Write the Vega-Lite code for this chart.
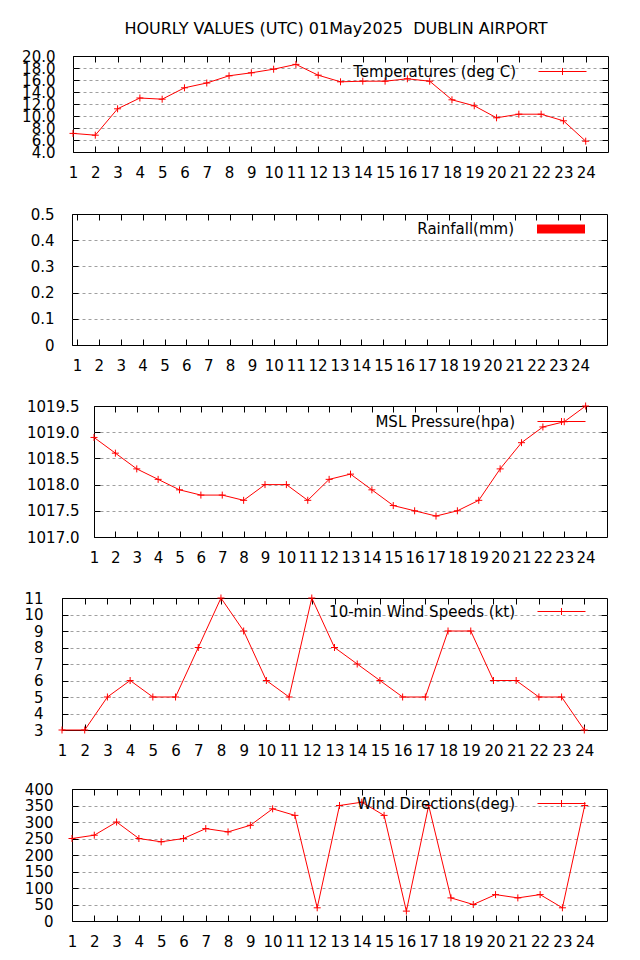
{
  "$schema": "https://vega.github.io/schema/vega-lite/v6.json",
  "padding": {"top": 20, "left": 5, "right": 5, "bottom": 5},
  "background": "white",
  "title": {"text": "HOURLY VALUES (UTC) 01May2025 \u00a0DUBLIN AIRPORT", "font": "DejaVu Sans", "fontSize": 16, "fontWeight": "normal", "color": "black", "anchor": "middle", "dx": 29, "offset": 12},
  "config": {
    "font": "DejaVu Sans",
    "view": {"stroke": "black", "strokeWidth": 1},
    "axis": {"domain": false, "tickSize": -6, "tickColor": "black", "tickWidth": 1, "labelFont": "DejaVu Sans", "labelFontSize": 15, "labelColor": "black", "labelOverlap": false, "labelFlush": false, "grid": false, "gridColor": "#a0a0a0", "gridDash": [3, 3], "gridWidth": 1},
    "legend": {"labelFont": "DejaVu Sans", "labelFontSize": 15, "labelColor": "black", "labelLimit": 0, "padding": 0, "orient": "none", "labelAlign": "right", "labelOffset": -56, "symbolSize": 324}
  },
  "spacing": 0,
  "columns": 1,
  "resolve": {"scale": {"color": "independent"}, "legend": {"color": "independent"}},
  "data": {"values": [
    {"hour": 1, "temp": 7.1, "rain": 0, "pres": 1018.9, "wind": 3, "dir": 250},
    {"hour": 2, "temp": 6.8, "rain": 0, "pres": 1018.6, "wind": 3, "dir": 260},
    {"hour": 3, "temp": 11.2, "rain": 0, "pres": 1018.3, "wind": 5, "dir": 300},
    {"hour": 4, "temp": 13.0, "rain": 0, "pres": 1018.1, "wind": 6, "dir": 250},
    {"hour": 5, "temp": 12.8, "rain": 0, "pres": 1017.9, "wind": 5, "dir": 240},
    {"hour": 6, "temp": 14.7, "rain": 0, "pres": 1017.8, "wind": 5, "dir": 250},
    {"hour": 7, "temp": 15.5, "rain": 0, "pres": 1017.8, "wind": 8, "dir": 280},
    {"hour": 8, "temp": 16.7, "rain": 0, "pres": 1017.7, "wind": 11, "dir": 270},
    {"hour": 9, "temp": 17.2, "rain": 0, "pres": 1018.0, "wind": 9, "dir": 290},
    {"hour": 10, "temp": 17.8, "rain": 0, "pres": 1018.0, "wind": 6, "dir": 340},
    {"hour": 11, "temp": 18.6, "rain": 0, "pres": 1017.7, "wind": 5, "dir": 320},
    {"hour": 12, "temp": 16.8, "rain": 0, "pres": 1018.1, "wind": 11, "dir": 40},
    {"hour": 13, "temp": 15.7, "rain": 0, "pres": 1018.2, "wind": 8, "dir": 350},
    {"hour": 14, "temp": 15.8, "rain": 0, "pres": 1017.9, "wind": 7, "dir": 360},
    {"hour": 15, "temp": 15.8, "rain": 0, "pres": 1017.6, "wind": 6, "dir": 320},
    {"hour": 16, "temp": 16.2, "rain": 0, "pres": 1017.5, "wind": 5, "dir": 30},
    {"hour": 17, "temp": 15.8, "rain": 0, "pres": 1017.4, "wind": 5, "dir": 350},
    {"hour": 18, "temp": 12.7, "rain": 0, "pres": 1017.5, "wind": 9, "dir": 70},
    {"hour": 19, "temp": 11.7, "rain": 0, "pres": 1017.7, "wind": 9, "dir": 50},
    {"hour": 20, "temp": 9.7, "rain": 0, "pres": 1018.3, "wind": 6, "dir": 80},
    {"hour": 21, "temp": 10.3, "rain": 0, "pres": 1018.8, "wind": 6, "dir": 70},
    {"hour": 22, "temp": 10.3, "rain": 0, "pres": 1019.1, "wind": 5, "dir": 80},
    {"hour": 23, "temp": 9.2, "rain": 0, "pres": 1019.2, "wind": 5, "dir": 40},
    {"hour": 24, "temp": 5.8, "rain": 0, "pres": 1019.5, "wind": 3, "dir": 350}
  ]},
  "concat": [
    {
      "spacing": 0,
      "resolve": {"scale": {"color": "independent"}, "legend": {"color": "independent"}},
      "hconcat": [
        {"width": 16, "height": 1, "view": {"stroke": null}, "mark": {"type": "point", "opacity": 0}, "encoding": {}},
        {
          "width": 535, "height": 96,
          "layer": [
            {
              "mark": {"type": "line", "strokeWidth": 1},
              "encoding": {
                "x": {"field": "hour", "type": "quantitative", "scale": {"domain": [1, 25], "nice": false, "zero": false}, "axis": {"orient": "bottom", "title": null, "values": [1,2,3,4,5,6,7,8,9,10,11,12,13,14,15,16,17,18,19,20,21,22,23,24], "format": "d", "labelPadding": 26, "labelBaseline": "middle", "minExtent": 53, "maxExtent": 53}},
                "y": {"field": "temp", "type": "quantitative", "scale": {"domain": [4, 20], "nice": false, "zero": false}, "axis": {"orient": "left", "title": null, "values": [4,6,8,10,12,14,16,18,20], "format": ".1f", "labelPadding": 24, "minExtent": 50, "maxExtent": 50}},
                "color": {"datum": "Temperatures (deg C)", "type": "nominal", "scale": {"range": ["#ff0000"]}, "legend": {"title": null, "legendX": 480, "legendY": 6, "symbolType": "M-2.667,0H2.667M0,-0.39V0.39", "symbolStrokeWidth": 1}}
              }
            },
            {
              "mark": {"type": "point", "shape": "M-1,0H1M0,-1V1", "size": 49, "filled": false, "color": "#ff0000", "strokeWidth": 1, "opacity": 1},
              "encoding": {
                "x": {"field": "hour", "type": "quantitative", "axis": {"orient": "top", "title": null, "labels": false, "values": [1,2,3,4,5,6,7,8,9,10,11,12,13,14,15,16,17,18,19,20,21,22,23,24], "minExtent": 0, "maxExtent": 0}},
                "y": {"field": "temp", "type": "quantitative", "axis": {"orient": "right", "title": null, "labels": false, "grid": true, "values": [6,8,10,12,14,16,18], "minExtent": 0, "maxExtent": 0}}
              }
            }
          ],
          "resolve": {"axis": {"x": "independent", "y": "independent"}}
        }
      ]
    },
    {
      "spacing": 0,
      "resolve": {"scale": {"color": "independent"}, "legend": {"color": "independent"}},
      "hconcat": [
        {"width": 16, "height": 1, "view": {"stroke": null}, "mark": {"type": "point", "opacity": 0}, "encoding": {}},
        {
          "width": 535, "height": 131,
          "layer": [
            {
              "mark": {"type": "bar", "width": 10},
              "encoding": {
                "x": {"field": "hour", "type": "quantitative", "scale": {"domain": [1, 25], "nice": false, "zero": false}, "axis": {"orient": "bottom", "title": null, "values": [1,2,3,4,5,6,7,8,9,10,11,12,13,14,15,16,17,18,19,20,21,22,23,24], "format": "d", "labelPadding": 26, "labelBaseline": "middle", "minExtent": 52, "maxExtent": 52}},
                "y": {"field": "rain", "type": "quantitative", "scale": {"domain": [0, 0.5], "nice": false, "zero": false}, "axis": {"orient": "left", "title": null, "values": [0, 0.1, 0.2, 0.3, 0.4, 0.5], "format": "~g", "labelPadding": 24, "minExtent": 50, "maxExtent": 50}},
                "color": {"datum": "Rainfall(mm)", "type": "nominal", "scale": {"range": ["#ff0000"]}, "legend": {"title": null, "legendX": 480, "legendY": 6, "symbolType": "M-2.667,-0.5H2.667V0.5H-2.667Z", "symbolStrokeWidth": 0}}
              }
            },
            {
              "mark": {"type": "point", "opacity": 0},
              "encoding": {
                "x": {"field": "hour", "type": "quantitative", "axis": {"orient": "top", "title": null, "labels": false, "values": [1,2,3,4,5,6,7,8,9,10,11,12,13,14,15,16,17,18,19,20,21,22,23,24], "minExtent": 0, "maxExtent": 0}},
                "y": {"field": "rain", "type": "quantitative", "axis": {"orient": "right", "title": null, "labels": false, "grid": true, "values": [0.1, 0.2, 0.3, 0.4], "minExtent": 0, "maxExtent": 0}}
              }
            }
          ],
          "resolve": {"axis": {"x": "independent", "y": "independent"}}
        }
      ]
    },
    {
      "spacing": 0,
      "resolve": {"scale": {"color": "independent"}, "legend": {"color": "independent"}},
      "hconcat": [
        {"width": 18, "height": 1, "view": {"stroke": null}, "mark": {"type": "point", "opacity": 0}, "encoding": {}},
        {
          "width": 513, "height": 131,
          "layer": [
            {
              "mark": {"type": "line", "strokeWidth": 1},
              "encoding": {
                "x": {"field": "hour", "type": "quantitative", "scale": {"domain": [1, 25], "nice": false, "zero": false}, "axis": {"orient": "bottom", "title": null, "values": [1,2,3,4,5,6,7,8,9,10,11,12,13,14,15,16,17,18,19,20,21,22,23,24], "format": "d", "labelPadding": 26, "labelBaseline": "middle", "minExtent": 52, "maxExtent": 52}},
                "y": {"field": "pres", "type": "quantitative", "scale": {"domain": [1017, 1019.5], "nice": false, "zero": false}, "axis": {"orient": "left", "title": null, "values": [1017, 1017.5, 1018, 1018.5, 1019, 1019.5], "format": ".1f", "labelPadding": 21, "minExtent": 70, "maxExtent": 70}},
                "color": {"datum": "MSL Pressure(hpa)", "type": "nominal", "scale": {"range": ["#ff0000"]}, "legend": {"title": null, "legendX": 458, "legendY": 6, "symbolType": "M-2.667,0H2.667M0,-0.39V0.39", "symbolStrokeWidth": 1}}
              }
            },
            {
              "mark": {"type": "point", "shape": "M-1,0H1M0,-1V1", "size": 49, "filled": false, "color": "#ff0000", "strokeWidth": 1, "opacity": 1},
              "encoding": {
                "x": {"field": "hour", "type": "quantitative", "axis": {"orient": "top", "title": null, "labels": false, "values": [1,2,3,4,5,6,7,8,9,10,11,12,13,14,15,16,17,18,19,20,21,22,23,24], "minExtent": 0, "maxExtent": 0}},
                "y": {"field": "pres", "type": "quantitative", "axis": {"orient": "right", "title": null, "labels": false, "grid": true, "values": [1017.5, 1018, 1018.5, 1019], "minExtent": 0, "maxExtent": 0}}
              }
            }
          ],
          "resolve": {"axis": {"x": "independent", "y": "independent"}}
        }
      ]
    },
    {
      "spacing": 0,
      "resolve": {"scale": {"color": "independent"}, "legend": {"color": "independent"}},
      "hconcat": [
        {"width": 6, "height": 1, "view": {"stroke": null}, "mark": {"type": "point", "opacity": 0}, "encoding": {}},
        {
          "width": 545, "height": 132,
          "layer": [
            {
              "mark": {"type": "line", "strokeWidth": 1},
              "encoding": {
                "x": {"field": "hour", "type": "quantitative", "scale": {"domain": [1, 25], "nice": false, "zero": false}, "axis": {"orient": "bottom", "title": null, "values": [1,2,3,4,5,6,7,8,9,10,11,12,13,14,15,16,17,18,19,20,21,22,23,24], "format": "d", "labelPadding": 26, "labelBaseline": "middle", "minExtent": 50, "maxExtent": 50}},
                "y": {"field": "wind", "type": "quantitative", "scale": {"domain": [3, 11], "nice": false, "zero": false}, "axis": {"orient": "left", "title": null, "values": [3,4,5,6,7,8,9,10,11], "format": "d", "labelPadding": 25, "minExtent": 50, "maxExtent": 50}},
                "color": {"datum": "10-min Wind Speeds (kt)", "type": "nominal", "scale": {"range": ["#ff0000"]}, "legend": {"title": null, "legendX": 490, "legendY": 4, "symbolType": "M-2.667,0H2.667M0,-0.39V0.39", "symbolStrokeWidth": 1}}
              }
            },
            {
              "mark": {"type": "point", "shape": "M-1,0H1M0,-1V1", "size": 49, "filled": false, "color": "#ff0000", "strokeWidth": 1, "opacity": 1},
              "encoding": {
                "x": {"field": "hour", "type": "quantitative", "axis": {"orient": "top", "title": null, "labels": false, "values": [1,2,3,4,5,6,7,8,9,10,11,12,13,14,15,16,17,18,19,20,21,22,23,24], "minExtent": 0, "maxExtent": 0}},
                "y": {"field": "wind", "type": "quantitative", "axis": {"orient": "right", "title": null, "labels": false, "grid": true, "values": [4,5,6,7,8,9,10], "minExtent": 0, "maxExtent": 0}}
              }
            }
          ],
          "resolve": {"axis": {"x": "independent", "y": "independent"}}
        }
      ]
    },
    {
      "spacing": 0,
      "resolve": {"scale": {"color": "independent"}, "legend": {"color": "independent"}},
      "hconcat": [
        {"width": 16, "height": 1, "view": {"stroke": null}, "mark": {"type": "point", "opacity": 0}, "encoding": {}},
        {
          "width": 535, "height": 132,
          "layer": [
            {
              "mark": {"type": "line", "strokeWidth": 1},
              "encoding": {
                "x": {"field": "hour", "type": "quantitative", "scale": {"domain": [1, 25], "nice": false, "zero": false}, "axis": {"orient": "bottom", "title": null, "values": [1,2,3,4,5,6,7,8,9,10,11,12,13,14,15,16,17,18,19,20,21,22,23,24], "format": "d", "labelPadding": 26, "labelBaseline": "middle", "minExtent": 30, "maxExtent": 30}},
                "y": {"field": "dir", "type": "quantitative", "scale": {"domain": [0, 400], "nice": false, "zero": false}, "axis": {"orient": "left", "title": null, "values": [0,50,100,150,200,250,300,350,400], "format": "d", "labelPadding": 25, "minExtent": 50, "maxExtent": 50}},
                "color": {"datum": "Wind Directions(deg)", "type": "nominal", "scale": {"range": ["#ff0000"]}, "legend": {"title": null, "legendX": 480, "legendY": 5, "symbolType": "M-2.667,0H2.667M0,-0.39V0.39", "symbolStrokeWidth": 1}}
              }
            },
            {
              "mark": {"type": "point", "shape": "M-1,0H1M0,-1V1", "size": 49, "filled": false, "color": "#ff0000", "strokeWidth": 1, "opacity": 1},
              "encoding": {
                "x": {"field": "hour", "type": "quantitative", "axis": {"orient": "top", "title": null, "labels": false, "values": [1,2,3,4,5,6,7,8,9,10,11,12,13,14,15,16,17,18,19,20,21,22,23,24], "minExtent": 0, "maxExtent": 0}},
                "y": {"field": "dir", "type": "quantitative", "axis": {"orient": "right", "title": null, "labels": false, "grid": true, "values": [50,100,150,200,250,300,350], "minExtent": 0, "maxExtent": 0}}
              }
            }
          ],
          "resolve": {"axis": {"x": "independent", "y": "independent"}}
        }
      ]
    }
  ]
}
